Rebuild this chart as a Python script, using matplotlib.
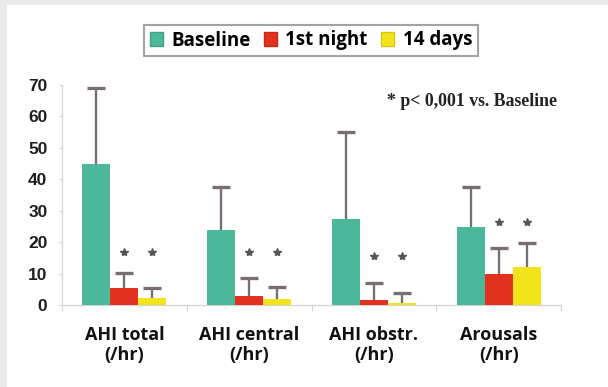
import numpy as np
import matplotlib
matplotlib.use("Agg")
import matplotlib.pyplot as plt
from matplotlib.patches import Patch, Rectangle

# values (mean, SD shown as upper error only)
categories = ["AHI total\n(/hr)", "AHI central\n(/hr)", "AHI obstr.\n(/hr)", "Arousals\n(/hr)"]
series = ["Baseline", "1st night", "14 days"]
baseline = [45.0, 24.0, 27.4, 24.8]
baseline_sd = [24.0, 13.4, 27.5, 12.8]
night1 = [5.5, 3.0, 1.6, 9.9]
night1_sd = [4.7, 5.7, 5.5, 8.3]
days14 = [2.2, 1.9, 0.7, 12.1]
days14_sd = [3.2, 3.8, 3.2, 7.6]
star_y = [16.9, 16.8, 15.6, 26.4]
yticks = [0, 10, 20, 30, 40, 50, 60, 70]

colors = ["#4cb89b", "#e2311e", "#f2e31b"]
edge = ["#3f9f85", "#c42a18", "#d8c915"]
err_col = "#7a6f70"
grid_col = "#d3d3d3"

fig = plt.figure(figsize=(6.08, 3.87), dpi=100, facecolor="#e9ebea")
# white panel behind everything
fig.patches.append(Rectangle((7 / 608, 0), 1, 1 - 5 / 387, transform=fig.transFigure,
                             facecolor="white", edgecolor="none", zorder=-10))

ax = fig.add_axes([62 / 608, 82 / 387, 499 / 608, 220 / 387])
ax.set_facecolor("none")

w = 0.224
x = np.arange(len(categories)) + 0.5
data = [(baseline, baseline_sd), (night1, night1_sd), (days14, days14_sd)]
for i, (vals, sd) in enumerate(data):
    xs = x + (i - 1) * w
    vals = np.array(vals)
    top = vals + np.array(sd)
    ax.bar(xs, vals, width=w, color=colors[i], edgecolor="none", zorder=3)
    # upper-only error bar: stem plus cap
    ax.vlines(xs, vals, top, color=err_col, linewidth=1.7, zorder=2)
    ax.plot(xs, top, linestyle="none", marker="_", markersize=13, markeredgewidth=2.4,
            color=err_col, zorder=2)

# significance stars above 1st night and 14 days bars
for i in (1, 2):
    ax.plot(x + (i - 1) * w, star_y, linestyle="none", marker="*", markersize=6,
            color="#5a5455", zorder=4)

ax.set_xlim(0, 4)
ax.set_ylim(0, 70)
ax.set_yticks(yticks)
ax.set_yticklabels([str(t) for t in yticks], fontfamily="Liberation Sans",
                   fontweight="bold", fontsize=12.5, color="#1e1e1e")
ax.tick_params(axis="y", length=2.5, width=0.8, color=grid_col, pad=8)

ax.set_xticks(np.arange(5))
ax.set_xticklabels([])
ax.tick_params(axis="x", which="major", length=4, width=0.8, color=grid_col)
ax.set_xticks(x, minor=True)
ax.set_xticklabels(categories, minor=True, fontfamily="Open Sans", fontweight="bold",
                   fontsize=13, color="#111111", linespacing=1.15)
ax.tick_params(axis="x", which="minor", length=0, pad=15)

for s in ("top", "right"):
    ax.spines[s].set_visible(False)
for s in ("left", "bottom"):
    ax.spines[s].set_color(grid_col)
    ax.spines[s].set_linewidth(0.9)

handles = [Patch(facecolor=colors[i], edgecolor=edge[i], linewidth=1) for i in range(3)]
leg = fig.legend(handles, series, loc="center", bbox_to_anchor=(311 / 608, 1 - 40.5 / 387),
                 ncol=3, frameon=True, fancybox=False, handlelength=0.7, handleheight=0.7,
                 handletextpad=0.45, columnspacing=0.7, borderpad=0.3, borderaxespad=0,
                 prop={"family": "Open Sans", "weight": "bold", "size": 13.5})
leg.get_frame().set_edgecolor("#8c8c8c")
leg.get_frame().set_linewidth(1.5)

fig.text(387 / 608, 1 - 101 / 387, "* p< 0,001 vs. Baseline", ha="left", va="center",
         fontfamily="Liberation Serif", fontweight="bold", fontsize=12.8, color="#222222")

fig.savefig("out.png", dpi=100, facecolor=fig.get_facecolor())
